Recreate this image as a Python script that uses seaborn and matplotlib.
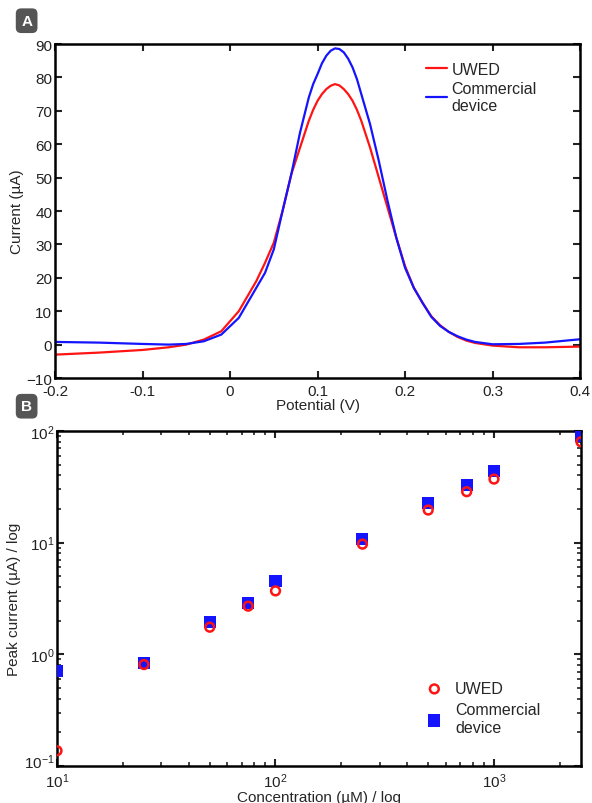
import numpy as np
import pandas as pd
import matplotlib
matplotlib.use("Agg")
import matplotlib.pyplot as plt
import matplotlib.transforms as mtransforms
from matplotlib.ticker import LogLocator, NullFormatter
import seaborn as sns

# ---------- panel A : voltammograms ----------
potential = [-0.20, -0.15, -0.10, -0.07, -0.05, -0.03, -0.01, 0.00, 0.01, 0.02,
             0.03, 0.04, 0.05, 0.06, 0.07, 0.08, 0.09, 0.095, 0.10, 0.105,
             0.11, 0.115, 0.12, 0.125, 0.13, 0.135, 0.14, 0.145, 0.15, 0.16,
             0.17, 0.18, 0.19, 0.20, 0.21, 0.22, 0.23, 0.24, 0.25, 0.26,
             0.27, 0.28, 0.30, 0.33, 0.36, 0.40]
current_uwed = [-3.0, -2.4, -1.6, -0.8, 0.0, 1.5, 4.0, 7.0, 10.0, 14.5,
                19.0, 24.5, 30.5, 40.0, 51.0, 59.0, 67.0, 70.3, 73.0, 75.0,
                76.5, 77.5, 78.0, 77.6, 76.5, 75.0, 73.0, 70.3, 67.0, 59.0,
                50.0, 41.0, 32.0, 23.5, 17.0, 12.5, 8.5, 5.8, 3.8, 2.3,
                1.2, 0.5, -0.3, -0.8, -0.8, -0.6]
current_comm = [0.8, 0.6, 0.2, 0.0, 0.2, 1.0, 3.0, 5.5, 8.0, 12.5,
                17.0, 21.5, 28.5, 40.0, 51.0, 63.5, 74.0, 78.0, 81.0, 84.2,
                86.5, 88.0, 88.7, 88.5, 87.5, 85.6, 83.0, 79.5, 75.0, 66.0,
                55.0, 43.0, 32.0, 23.0, 17.0, 12.5, 8.3, 5.6, 3.8, 2.5,
                1.5, 0.8, 0.1, 0.2, 0.6, 1.6]

# ---------- panel B : calibration ----------
concentration = [10, 25, 50, 75, 100, 250, 500, 750, 1000, 2500]
peak_uwed = [0.137, 0.81, 1.75, 2.7, 3.7, 9.7, 19.6, 28.6, 37.1, 80.0]
peak_comm = [0.71, 0.835, 1.95, 2.88, 4.5, 10.8, 22.6, 33.0, 43.7, 89.5]

labels = ["UWED", "Commercial\ndevice"]
colors = {"UWED": "#ff1414", "Commercial\ndevice": "#1414ff"}

df_cv = pd.DataFrame({
    "Potential": potential * 2,
    "Current": current_uwed + current_comm,
    "Device": [labels[0]] * len(potential) + [labels[1]] * len(potential),
})

sns.set_theme(style="ticks")
plt.rcParams["font.family"] = ["Liberation Sans", "DejaVu Sans"]
plt.rcParams["mathtext.fontset"] = "custom"
plt.rcParams["mathtext.rm"] = "Liberation Sans"

fig = plt.figure(figsize=(5.92, 8.04), dpi=100)
ax1 = fig.add_axes([0.0929, 0.5286, 0.887, 0.4154])
ax2 = fig.add_axes([0.0963, 0.046, 0.885, 0.4167])

# panel A
sns.lineplot(data=df_cv, x="Potential", y="Current", hue="Device", palette=colors,
             sort=False, estimator=None, linewidth=1.6, ax=ax1)
ax1.set_xlim(-0.2, 0.4)
ax1.set_ylim(-10, 90)
ax1.set_xticks(np.arange(-0.2, 0.41, 0.1))
ax1.set_xticklabels(["-0.2", "-0.1", "0", "0.1", "0.2", "0.3", "0.4"])
ax1.set_yticks(np.arange(-10, 91, 10))
ax1.set_xlabel("Potential (V)", fontsize=11, labelpad=0)
ax1.set_ylabel("Current (µA)", fontsize=11, labelpad=2)
ax1.legend(loc="upper right", bbox_to_anchor=(0.945, 0.99), frameon=False,
           fontsize=11.5, handlelength=1.3, handletextpad=0.3, labelspacing=0.25)

# panel B
sns.scatterplot(x=concentration, y=peak_comm, marker="s", s=75, color=colors[labels[1]],
                edgecolor="none", label=labels[1], ax=ax2, zorder=3)
sns.scatterplot(x=concentration, y=peak_uwed, marker="o", s=40, facecolor="none",
                edgecolor=colors[labels[0]], linewidth=1.8, label=labels[0], ax=ax2, zorder=4)
ax2.set_xscale("log")
ax2.set_yscale("log")
ax2.set_xlim(10, 2500)
ax2.set_ylim(0.1, 100)
ax2.xaxis.set_major_locator(LogLocator(base=10, numticks=10))
ax2.xaxis.set_minor_locator(LogLocator(base=10, subs=np.arange(2, 10), numticks=20))
ax2.yaxis.set_minor_locator(LogLocator(base=10, subs=np.arange(2, 10), numticks=20))
ax2.xaxis.set_minor_formatter(NullFormatter())
ax2.yaxis.set_minor_formatter(NullFormatter())
ax2.set_xlabel("Concentration (µM) / log", fontsize=11, labelpad=0)
ax2.set_ylabel("Peak current (µA) / log", fontsize=11, labelpad=2)
h, l = ax2.get_legend_handles_labels()
ax2.legend(h[::-1], l[::-1], loc="lower right", bbox_to_anchor=(0.95, 0.05), frameon=False,
           fontsize=11.5, handletextpad=0.3, labelspacing=0.4)

for ax in (ax1, ax2):
    for sp in ax.spines.values():
        sp.set_linewidth(1.8)
        sp.set_color("black")
    ax.tick_params(which="major", direction="in", length=5, width=1.5, top=True, right=True,
                   labelsize=11, pad=2, colors="#222222")
    ax.tick_params(which="minor", direction="in", length=3, width=1.2, top=True, right=True)
    ax.tick_params(axis="x", which="major", pad=4)

# nudge the lowest y label of panel B up so it does not touch 10^1
fig.canvas.draw()
lift = mtransforms.ScaledTranslation(0, 4 / 72, fig.dpi_scale_trans)
for tk in ax2.yaxis.get_major_ticks():
    if np.isclose(tk.get_loc(), 0.1):
        tk.label1.set_transform(tk.label1.get_transform() + lift)

# panel tags
for txt, y in (("A", 0.973), ("B", 0.4935)):
    fig.text(0.045, y, txt, color="white", fontsize=11, fontweight="bold", ha="center", va="center",
             bbox=dict(boxstyle="round,pad=0.35", facecolor="#555555", edgecolor="none"))

fig.savefig("out.png", dpi=100)
